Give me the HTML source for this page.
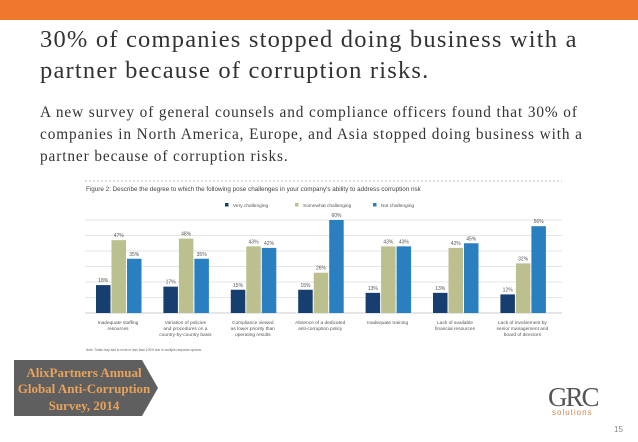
<!DOCTYPE html>
<html><head><meta charset="utf-8"><style>
body{margin:0;width:638px;height:442px;background:#fff;position:relative;overflow:hidden;font-family:"Liberation Serif",serif}
.abs{position:absolute}
</style></head><body>
<div class="abs" style="left:0;top:0;width:638px;height:20px;background:#f0782d"></div>
<div class="abs" style="left:40px;top:24px;width:575px;font-size:24.5px;line-height:31px;color:#333;letter-spacing:1.2px">30% of companies stopped doing business with a partner because of corruption risks.</div>
<div class="abs" style="left:40px;top:102px;width:570px;font-size:15.3px;line-height:22px;color:#333;letter-spacing:0.9px">A new survey of general counsels and compliance officers found that 30% of companies in North America, Europe, and Asia stopped doing business with a partner because of corruption risks.</div>
<svg class="abs" style="left:0;top:0" width="638" height="442" id="chart" font-family="Liberation Sans, sans-serif">
<line x1="85" y1="181" x2="562" y2="181" stroke="#bbb" stroke-dasharray="2,2"/>
<text x="86" y="191" font-size="6.3" fill="#444">Figure 2: Describe the degree to which the following pose challenges in your company's ability to address corruption risk</text>
<g id="legend"></g><g id="grid"></g><g id="bars"></g><g id="labels"></g>
<text x="86" y="351" font-size="3.2" fill="#666">Note: Totals may add to more or less than 100% due to multiple-response options.</text>
</svg>
<svg class="abs" style="left:14px;top:360px" width="150" height="56">
<polygon points="0,0 128,0 144,28 128,56 0,56" fill="#5f5f5f"/>
<text x="70" y="17" text-anchor="middle" font-family="Liberation Serif, serif" font-weight="bold" font-size="13" fill="#e8a25a">AlixPartners Annual</text>
<text x="70" y="33" text-anchor="middle" font-family="Liberation Serif, serif" font-weight="bold" font-size="13" fill="#e8a25a">Global Anti-Corruption</text>
<text x="70" y="50" text-anchor="middle" font-family="Liberation Serif, serif" font-weight="bold" font-size="13" fill="#e8a25a">Survey, 2014</text>
</svg>
<div class="abs" style="left:548px;top:384px;font-size:27px;color:#555;letter-spacing:-2px;line-height:26px">GRC</div>
<div class="abs" style="left:552px;top:408px;font-family:'Liberation Sans',sans-serif;font-size:8px;color:#c8884a;letter-spacing:1px">solutions</div>
<div class="abs" style="left:614px;top:425px;font-family:'Liberation Sans',sans-serif;font-size:8px;color:#888">15</div>
<script>
const categories=[["Inadequate staffing","resources"],["Variation of policies","and procedures on a","country-by-country basis"],["Compliance viewed","as lower priority than","operating results"],["Absence of a dedicated","anti-corruption policy"],["Inadequate training"],["Lack of available","financial resources"],["Lack of involvement by","senior management and","board of directors"]];
const veryChallenging=[18,17,15,15,13,13,12];
const somewhatChallenging=[47,48,43,26,43,42,32];
const notChallenging=[35,35,42,60,43,45,56];
const seriesNames=["Very challenging","Somewhat challenging","Not challenging"];
const colors=["#163e6e","#bcbf8e","#2a7fc0"];
const ns="http://www.w3.org/2000/svg";
function mk(t,a,p){const e=document.createElementNS(ns,t);for(const k in a)e.setAttribute(k,a[k]);p.appendChild(e);return e;}
const y0=313,pxPer=1.55,x0=96,gStep=67.4,bw=14.5;
const y=v=>y0-v*pxPer;
const grid=document.getElementById('grid');
for(let v=0;v<=60;v+=10){const l=mk('line',{x1:85,x2:562,y1:y(v),y2:y(v),stroke:v?'#ddd':'#bbb','stroke-width':0.7},grid);

}
const bars=document.getElementById('bars'),labels=document.getElementById('labels');
const series=[veryChallenging,somewhatChallenging,notChallenging];
series.forEach((s,si)=>s.forEach((v,i)=>{const x=x0+i*gStep+si*15.5;
const r=mk('rect',{x:x,y:y(v),width:bw,height:v*pxPer,fill:colors[si]},bars);


const t=mk('text',{x:x+bw/2,y:y(v)-3,'font-size':5,'text-anchor':'middle',fill:'#555'},labels);t.textContent=v+'%';

}));
categories.forEach((c,i)=>c.forEach((ln,j)=>{const t=mk('text',{x:x0+i*gStep+22,y:324+j*6,'font-size':4.8,'text-anchor':'middle',fill:'#555'},labels);t.textContent=ln;

}));
const lg=document.getElementById('legend');const lx=[225,295,373];
seriesNames.forEach((n,i)=>{mk('rect',{x:lx[i],y:203,width:3.5,height:3.5,fill:colors[i]},lg);
const t=mk('text',{x:lx[i]+8,y:207,'font-size':4.8,fill:'#555'},lg);t.textContent=n;

});
</script>
</body></html>
